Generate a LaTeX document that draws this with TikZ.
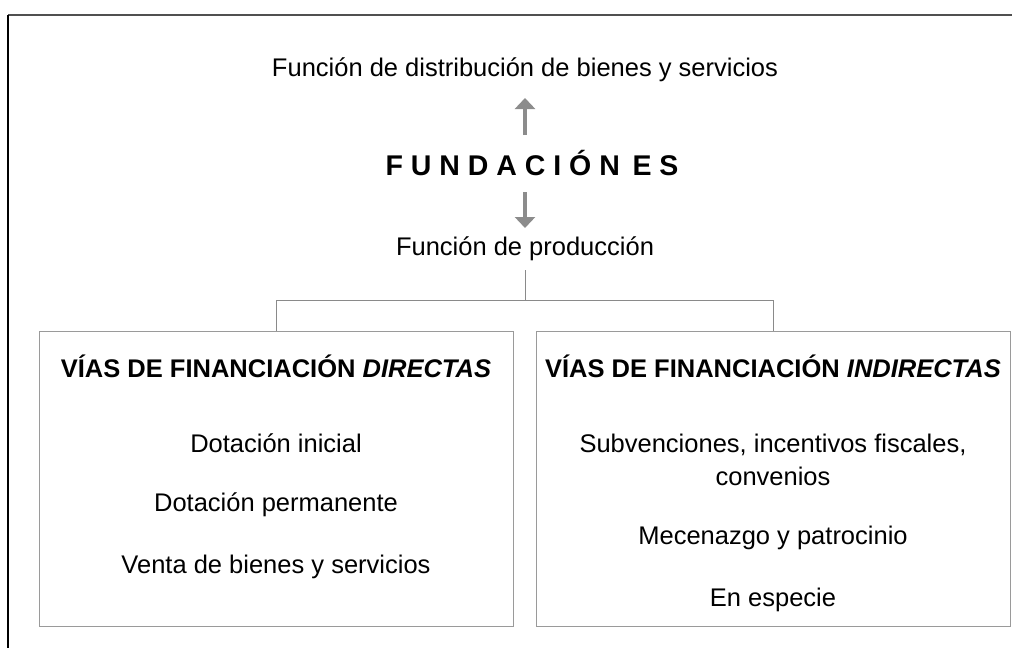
\documentclass[tikz,border=0pt]{standalone}
\usepackage{fontspec}
\setmainfont{Liberation Sans}
\usetikzlibrary{arrows.meta}
\definecolor{framedark}{HTML}{505050}
\definecolor{boxedge}{HTML}{9A9A9A}
\definecolor{connline}{HTML}{8A8A8A}
\definecolor{arrowgray}{HTML}{8C8C8C}
\tikzset{
  txt/.style={inner sep=0pt, font=\fontsize{25.5}{33}\selectfont, align=center},
  head/.style={inner sep=0pt, font=\fontsize{25.5}{33}\selectfont\bfseries},
  titletxt/.style={inner sep=0pt, font=\fontsize{28.5}{33}\selectfont\bfseries},
  fbox/.style={draw=boxedge, line width=1pt, minimum height=295pt, inner sep=0pt},
  bigarrow/.style={draw=arrowgray, line width=4pt, -{Triangle[width=20pt,length=11pt]}},
  conn/.style={draw=connline, line width=1pt},
}
\begin{document}
\begin{tikzpicture}[x=1pt,y=-1pt]
\useasboundingbox (0,0) rectangle (1015,648);
% outer frame (only top and left edges visible)
\draw[framedark, line width=2pt] (8,14.5) -- (1012,14.5);
\draw[black, line width=1.5pt] (8,14.5) -- (8,648);

\node[txt] (dist) at (525,70) {Función de distribución de bienes y servicios};
\node[titletxt] (title) at (532,163) {F U N D A C I Ó N \,E S};
\node[txt] (prod) at (525,249) {Función de producción};

\draw[bigarrow] ([xshift=-7pt,yshift=28pt]title.center) -- ([yshift=-28pt]dist.center);
\draw[bigarrow] ([xshift=-7pt,yshift=-29pt]title.center) -- ([yshift=21pt]prod.center);

\node[fbox, minimum width=474pt] (leftbox) at (276,478.5) {};
\node[fbox, minimum width=474pt] (rightbox) at (773,478.5) {};

\coordinate (junc) at (525,300);
\draw[conn] ([yshift=-21pt]prod.center) -- (junc);
\draw[conn] (junc) -| (leftbox.north);
\draw[conn] (junc) -| (rightbox.north);

\node[head] (lhead) at (276,366) {VÍAS DE FINANCIACIÓN \textit{DIRECTAS}};
\node[txt] (l1) at (276,443) {Dotación inicial};
\node[txt] (l2) at (276,505) {Dotación permanente};
\node[txt] (l3) at (276,567) {Venta de bienes y servicios};

\node[head] (rhead) at (773,366) {VÍAS DE FINANCIACIÓN \textit{INDIRECTAS}};
\node[txt] (r1) at (773,460) {Subvenciones, incentivos fiscales,\\convenios};
\node[txt] (r2) at (773,538) {Mecenazgo y patrocinio};
\node[txt] (r3) at (773,600) {En especie};
\end{tikzpicture}
\end{document}
